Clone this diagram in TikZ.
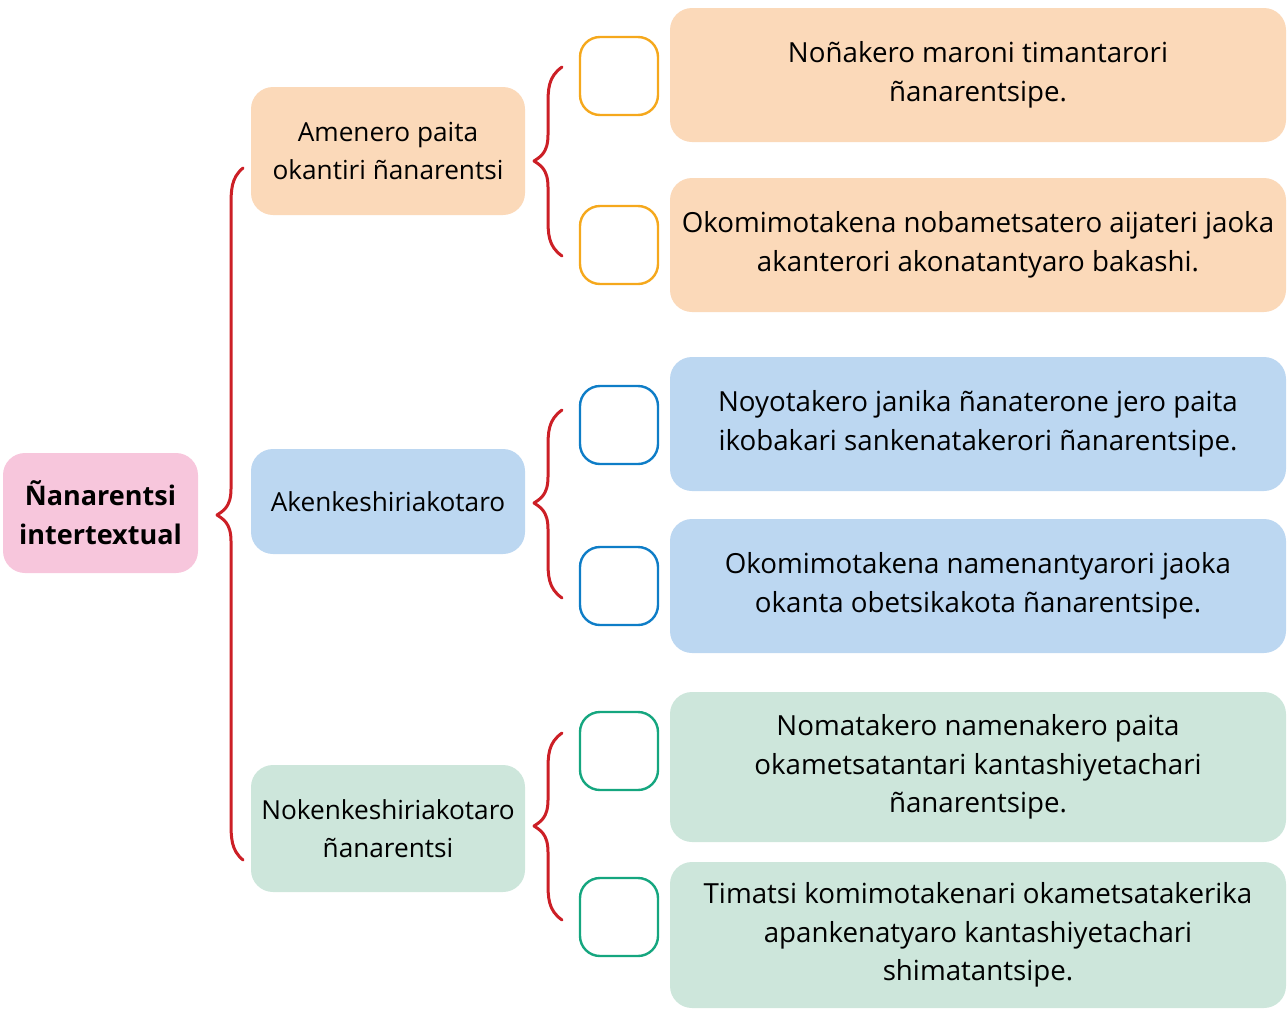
\documentclass[tikz,border=0pt]{standalone}
\usepackage{fontspec}
\setmainfont{Open Sans}
\usetikzlibrary{calc}

\definecolor{rootfill}{HTML}{F7C6DC}
\definecolor{orfill}{HTML}{FBD9B9}
\definecolor{blfill}{HTML}{BCD7F1}
\definecolor{grfill}{HTML}{CDE6DB}
\definecolor{orline}{HTML}{F5A81C}
\definecolor{blline}{HTML}{0E7DC7}
\definecolor{grline}{HTML}{15A67F}
\definecolor{bracered}{HTML}{CC1F26}

\tikzset{
  txt/.style={align=center, text=black, inner sep=0pt},
  rootbox/.style={txt, fill=rootfill, rounded corners=22pt, minimum width=195pt, minimum height=120pt, font=\fontsize{27}{39}\selectfont\bfseries},
  levelbox/.style={txt, rounded corners=22pt, minimum width=274pt, font=\fontsize{26.2}{38.5}\selectfont},
  itembox/.style={txt, rounded corners=22pt, minimum width=616pt, font=\fontsize{27.7}{38.5}\selectfont},
  tickbox/.style={draw, line width=2.4pt, rounded corners=20pt, minimum width=78pt, minimum height=78pt, inner sep=0pt},
  bracestroke/.style={draw=bracered, line width=3pt, line cap=round, line join=round},
}

% curly brace opening to the right: ends at xe, stem at xs, tip at xt
\newcommand{\curlybrace}[6]{%
  \draw[bracestroke] (#1,#4) .. controls (#2,#4+10) and (#2,#4+22) .. (#2,#4+40)
    -- (#2,#5-26) .. controls (#2,#5-8) and (#3+6,#5-4) .. (#3,#5)
    .. controls (#3+6,#5+4) and (#2,#5+8) .. (#2,#5+26)
    -- (#2,#6-40) .. controls (#2,#6-22) and (#2,#6-10) .. (#1,#6);}

\begin{document}
\begin{tikzpicture}[x=1pt,y=-1pt]
\useasboundingbox (0,0) rectangle (1288,1010);

% root
\node[rootbox] (root) at (100.5,513) {Ñanarentsi\\intertextual};

% first level
\node[levelbox, fill=orfill, minimum height=128pt] (l1) at (388,151) {Amenero paita\\okantiri ñanarentsi};
\node[levelbox, fill=blfill, minimum height=105pt] (l2) at (388,501.5) {Akenkeshiriakotaro};
\node[levelbox, fill=grfill, minimum height=127pt] (l3) at (388,828.5) {Nokenkeshiriakotaro\\ñanarentsi};

% empty answer boxes
\node[tickbox, draw=orline] (c1) at (619,76) {};
\node[tickbox, draw=orline] (c2) at (619,245) {};
\node[tickbox, draw=blline] (c3) at (619,425) {};
\node[tickbox, draw=blline] (c4) at (619,586) {};
\node[tickbox, draw=grline] (c5) at (619,751) {};
\node[tickbox, draw=grline] (c6) at (619,917) {};

% statements
\node[itembox, fill=orfill, minimum height=134pt] (s1) at (978,75) {Noñakero maroni timantarori\\ñanarentsipe.};
\node[itembox, fill=orfill, minimum height=134pt] (s2) at (978,245) {Okomimotakena nobametsatero aijateri jaoka\\akanterori akonatantyaro bakashi.};
\node[itembox, fill=blfill, minimum height=134pt] (s3) at (978,424) {Noyotakero janika ñanaterone jero paita\\ikobakari sankenatakerori ñanarentsipe.};
\node[itembox, fill=blfill, minimum height=134pt] (s4) at (978,586) {Okomimotakena namenantyarori jaoka\\okanta obetsikakota ñanarentsipe.};
\node[itembox, fill=grfill, minimum height=150pt] (s5) at (978,767) {Nomatakero namenakero paita\\okametsatantari kantashiyetachari\\ñanarentsipe.};
\node[itembox, fill=grfill, minimum height=146pt] (s6) at (978,935) {Timatsi komimotakenari okametsatakerika\\apankenatyaro kantashiyetachari\\shimatantsipe.};

% braces
\curlybrace{243}{231}{217}{168}{515}{860}
\curlybrace{562}{548}{534}{67}{161}{256}
\curlybrace{562}{548}{534}{410}{503}{598}
\curlybrace{562}{548}{534}{733}{826}{920}
\end{tikzpicture}
\end{document}
